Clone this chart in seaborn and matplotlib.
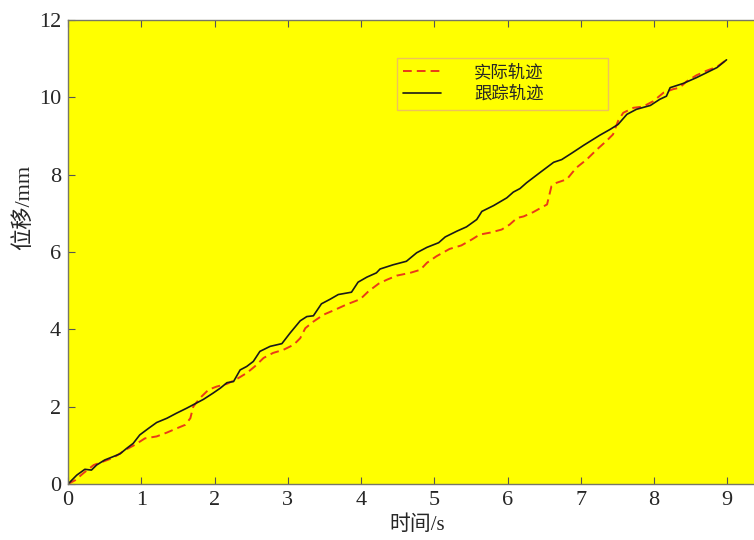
import matplotlib
matplotlib.use("Agg")
import matplotlib.pyplot as plt
from matplotlib.patches import Rectangle
import seaborn as sns

# tracking trajectory (black solid)
t_track = [0, 0.12, 0.23, 0.32, 0.39, 0.5, 0.62, 0.71, 0.8, 0.89, 0.98, 1.1, 1.21, 1.35,
           1.48, 1.62, 1.71, 1.85, 1.98, 2.08, 2.17, 2.26, 2.35, 2.44, 2.53, 2.62, 2.76,
           2.92, 3.03, 3.17, 3.26, 3.35, 3.46, 3.58, 3.69, 3.87, 3.96, 4.08, 4.21, 4.26,
           4.44, 4.62, 4.76, 4.9, 5.06, 5.15, 5.31, 5.44, 5.58, 5.65, 5.81, 5.99, 6.08,
           6.17, 6.26, 6.44, 6.63, 6.74, 6.88, 7.04, 7.26, 7.4, 7.51, 7.63, 7.76, 7.95,
           8.08, 8.17, 8.22, 8.4, 8.58, 8.72, 8.86, 8.99]
y_track = [0, 0.23, 0.38, 0.36, 0.49, 0.62, 0.71, 0.78, 0.92, 1.05, 1.27, 1.44, 1.59, 1.7,
           1.83, 1.96, 2.05, 2.19, 2.35, 2.48, 2.62, 2.65, 2.95, 3.04, 3.17, 3.43, 3.56,
           3.63, 3.9, 4.22, 4.33, 4.35, 4.66, 4.78, 4.9, 4.96, 5.22, 5.35, 5.46, 5.56,
           5.67, 5.76, 5.98, 6.12, 6.24, 6.39, 6.54, 6.65, 6.84, 7.05, 7.2, 7.4, 7.55,
           7.64, 7.79, 8.05, 8.32, 8.39, 8.56, 8.76, 9.02, 9.17, 9.3, 9.56, 9.69, 9.79,
           9.95, 10.03, 10.25, 10.36, 10.51, 10.64, 10.77, 10.97]

# actual trajectory (red dashed)
t_real = [0, 0.1, 0.21, 0.35, 0.48, 0.62, 0.8, 0.91, 1.05, 1.21, 1.35, 1.46, 1.6, 1.67,
          1.71, 1.8, 1.92, 2.03, 2.17, 2.3, 2.44, 2.55, 2.67, 2.8, 2.94, 3.08, 3.17,
          3.24, 3.35, 3.49, 3.65, 3.8, 3.99, 4.1, 4.24, 4.35, 4.49, 4.67, 4.81, 4.9,
          5.03, 5.21, 5.37, 5.51, 5.62, 5.76, 5.92, 6.03, 6.13, 6.22, 6.35, 6.54, 6.6,
          6.67, 6.81, 6.94, 7.08, 7.22, 7.35, 7.44, 7.51, 7.58, 7.72, 7.85, 7.99, 8.13,
          8.26, 8.35, 8.45, 8.58, 8.72, 8.86, 8.99]
y_real = [0, 0.1, 0.28, 0.49, 0.58, 0.68, 0.9, 1.01, 1.18, 1.23, 1.33, 1.42, 1.53, 1.7,
          2.0, 2.22, 2.44, 2.52, 2.59, 2.71, 2.87, 3.04, 3.26, 3.39, 3.47, 3.6, 3.77,
          4.03, 4.2, 4.38, 4.51, 4.64, 4.78, 4.98, 5.18, 5.28, 5.39, 5.46, 5.54, 5.72,
          5.89, 6.08, 6.17, 6.32, 6.45, 6.5, 6.58, 6.71, 6.88, 6.92, 7.03, 7.23, 7.7,
          7.79, 7.88, 8.18, 8.39, 8.65, 8.87, 9.04, 9.39, 9.6, 9.73, 9.76, 9.9, 10.12,
          10.21, 10.25, 10.42, 10.57, 10.69, 10.79, 10.97]

x_ticks = list(range(0, 10))
y_ticks = [0, 2, 4, 6, 8, 10, 12]

sns.set_style("ticks")
plt.rcParams["font.family"] = ["Liberation Serif", "Noto Sans CJK SC"]
plt.rcParams["axes.unicode_minus"] = False

fig = plt.figure(figsize=(7.54, 5.4), dpi=100)
ax = fig.add_axes([68 / 754, 56 / 540, 1 - 68 / 754, 464 / 540])
ax.set_facecolor("#ffff00")

sns.lineplot(x=t_real, y=y_real, color="#ea3a18", linestyle=(0, (4.5, 2.6)), linewidth=1.4,
             label="实际轨迹", ax=ax, sort=False)
sns.lineplot(x=t_track, y=y_track, color="#1a1a1a", linewidth=1.2,
             label="跟踪轨迹", ax=ax, sort=False)

ax.set_xlim(0, 686 / 73.25)
ax.set_ylim(0, 12)
ax.set_xticks(x_ticks)
ax.set_yticks(y_ticks)
ax.tick_params(direction="in", top=True, right=False, length=5, width=0.8,
               labelsize=16, color="#555555", pad=5)
for s in ["top", "left", "bottom"]:
    ax.spines[s].set_color("#777766")
    ax.spines[s].set_linewidth(1.0)
ax.spines["right"].set_visible(False)

ax.set_xlabel("时间/s", fontsize=15)
ax.set_ylabel("位移/mm", fontsize=16)
ax.xaxis.set_label_coords(0.509, -0.068)
ax.yaxis.set_label_coords(-0.05, 0.597)

# legend: entries without frame, frame drawn as a wide box like the original
leg = ax.legend(loc="upper left", bbox_to_anchor=(0.488, 0.905), borderaxespad=0,
                borderpad=0, fontsize=12.5, frameon=False, handlelength=2.2,
                handletextpad=1.9, labelspacing=0.3)
ax.add_patch(Rectangle((0.4796, 0.806), 0.3076, 0.112, transform=ax.transAxes,
                       facecolor="none", edgecolor="#eec25a", linewidth=1.0, zorder=5))

fig.savefig("out.png", dpi=100)
